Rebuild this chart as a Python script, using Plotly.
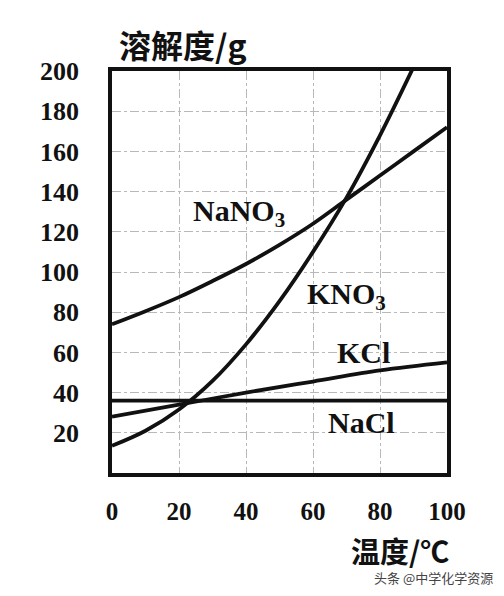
import plotly.graph_objects as go

# ---- data ----
temp_10 = [0, 10, 20, 30, 40, 50, 60, 70, 80, 90, 100]
nano3 = [74, 80.5, 87.5, 95.5, 104, 113.5, 124, 136, 148, 160, 172]
temp_kno3 = [0, 10, 20, 30, 40, 50, 60, 70, 80, 90]
kno3 = [13.5, 21, 31.6, 45.8, 64, 85.5, 110, 137, 168, 202]
temp_20 = [0, 20, 40, 60, 80, 100]
kcl = [28, 34, 40, 45.5, 51, 55]
nacl = [36, 36, 36, 36, 36, 36]

x_ticks = [0, 20, 40, 60, 80, 100]
y_ticks = [20, 40, 60, 80, 100, 120, 140, 160, 180, 200]

labels = ["NaNO<sub>3</sub>", "KNO<sub>3</sub>", "KCl", "NaCl"]
label_x = [38, 70, 75, 74.6]
label_y = [129.5, 88, 60, 25]

y_title = "溶解度/g"
x_title = "温度/℃"
watermark = "头条 @中学化学资源"

SERIF = "Liberation Serif"
CJK = "Noto Sans CJK SC"

fig = go.Figure()
line_style = dict(color="#111111", width=3.8, shape="spline", smoothing=1.0)
fig.add_trace(go.Scatter(x=temp_10, y=nano3, mode="lines", line=line_style, hoverinfo="skip"))
fig.add_trace(go.Scatter(x=temp_kno3, y=kno3, mode="lines", line=line_style, hoverinfo="skip"))
fig.add_trace(go.Scatter(x=temp_20, y=kcl, mode="lines", line=line_style, hoverinfo="skip"))
fig.add_trace(go.Scatter(x=temp_20, y=nacl, mode="lines", line=line_style, hoverinfo="skip"))

for t, lx, ly in zip(labels, label_x, label_y):
    fig.add_annotation(x=lx, y=ly, xref="x", yref="y", text=t, showarrow=False,
                       font=dict(family=SERIF, size=30, color="#111111", weight="bold"),
                       xanchor="center", yanchor="middle")

fig.add_annotation(x=0.212, y=1.068, xref="paper", yref="paper", text=y_title,
                   showarrow=False, xanchor="center", yanchor="middle",
                   font=dict(family=CJK, size=32, color="#111111", weight="bold"))
fig.add_annotation(x=0.86, y=-0.192, xref="paper", yref="paper", text=x_title,
                   showarrow=False, xanchor="center", yanchor="middle", borderpad=0,
                   font=dict(family=CJK, size=29, color="#111111", weight="bold"))
fig.add_annotation(x=0.961, y=-0.259, xref="paper", yref="paper", text=watermark,
                   showarrow=False, xanchor="center", yanchor="middle", borderpad=0,
                   font=dict(family=CJK, size=13, color="#444444"))

fig.update_xaxes(range=[0, 100], tickvals=x_ticks, ticktext=[str(v) for v in x_ticks],
                 showline=True, mirror=True, linecolor="#111111", linewidth=3.5,
                 showgrid=True, gridcolor="#b8b8b8", gridwidth=1, griddash="dashdot",
                 zeroline=False, ticks="outside", ticklen=13, tickcolor="rgba(0,0,0,0)",
                 tickfont=dict(family=SERIF, size=25, color="#111111", weight="bold"))
fig.update_yaxes(range=[0, 200], tickvals=y_ticks, ticktext=[str(v) for v in y_ticks],
                 showline=True, mirror=True, linecolor="#111111", linewidth=3.5,
                 showgrid=True, gridcolor="#b8b8b8", gridwidth=1, griddash="dashdot",
                 zeroline=False, ticks="outside", ticklen=24, tickcolor="rgba(0,0,0,0)",
                 tickfont=dict(family=SERIF, size=26, color="#111111", weight="bold"))

fig.update_layout(width=496, height=588, showlegend=False,
                  margin=dict(l=104, r=57, t=63, b=123),
                  plot_bgcolor="white", paper_bgcolor="white")

fig.write_html("out.html")
